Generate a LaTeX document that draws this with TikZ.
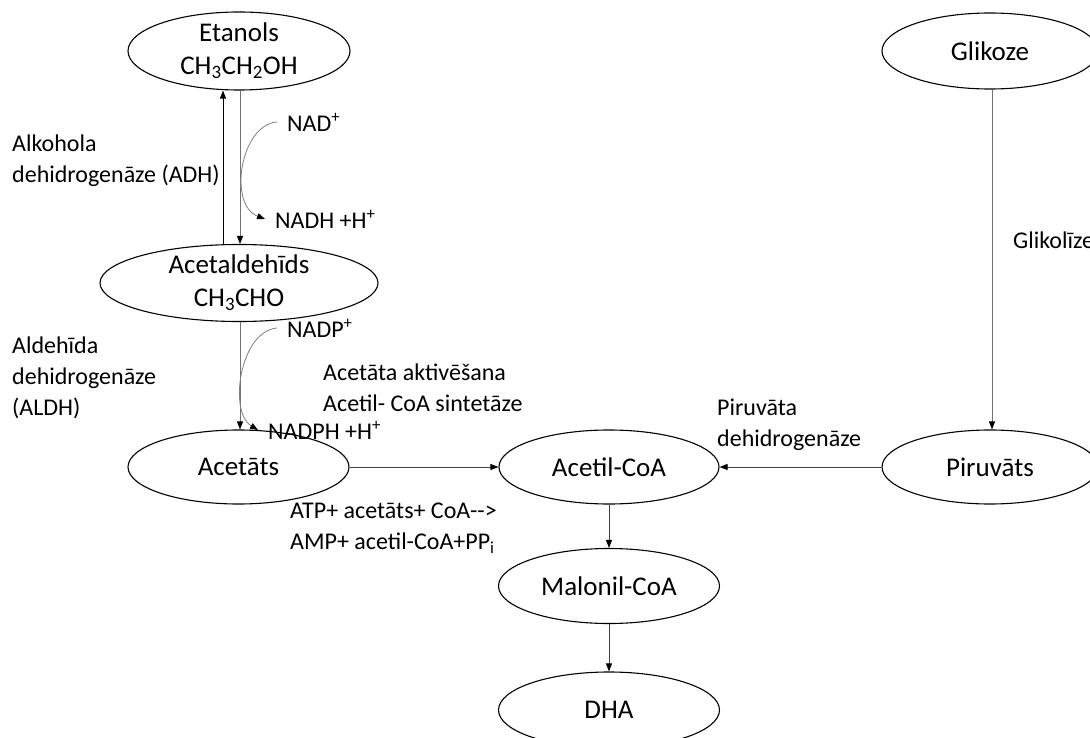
\documentclass[tikz,border=0pt]{standalone}
\usepackage{fontspec}
\setmainfont{Carlito}
\usetikzlibrary{shapes.geometric,arrows.meta}
\begin{document}
\begin{tikzpicture}[x=1pt,y=-1pt,
  ell/.style={ellipse,draw=black,line width=1.1pt,inner xsep=0pt,inner ysep=-16pt,align=center,font=\fontsize{27}{33}\selectfont},
  lbl/.style={inner sep=0pt,align=left,anchor=west,font=\fontsize{24}{31}\selectfont},
  cof/.style={inner xsep=10pt,inner ysep=0pt,anchor=west,font=\fontsize{24}{31}\selectfont},
  arr/.style={line width=0.9pt,draw=black!75,-{Triangle[length=8pt,width=6pt,color=black]}},
  cur/.style={line width=0.8pt,draw=black!50,-{Triangle[length=8pt,width=6pt,color=black]}},
]
\useasboundingbox (0,0) rectangle (1090,738);
\clip (0,0) rectangle (1090,738);

% nodes
\node[ell,minimum width=222pt,minimum height=78pt] (eta) at (239,51) {Etanols\\CH\textsubscript{3}CH\textsubscript{2}OH};
\node[ell,minimum width=278pt,minimum height=77pt] (ald) at (239,283) {Acetaldehīds\\CH\textsubscript{3}CHO};
\node[ell,minimum width=221pt,minimum height=74pt] (acet) at (238.5,467) {Acetāts};
\node[ell,minimum width=220pt,minimum height=74pt] (acoa) at (609,467) {Acetil-CoA};
\node[ell,minimum width=221pt,minimum height=75pt] (mal) at (609,586) {Malonil-CoA};
\node[ell,minimum width=221pt,minimum height=76pt] (dha) at (609,710) {DHA};
\node[ell,minimum width=216pt,minimum height=76pt] (glik) at (990,51) {Glikoze};
\node[ell,minimum width=216pt,minimum height=74pt] (piru) at (990,467) {Piruvāts};

% cofactor labels
\node[cof] (nad) at (277,122) {NAD\textsuperscript{+}};
\node[cof] (nadh) at (265,219) {NADH +H\textsuperscript{+}};
\node[cof] (nadp) at (277,328) {NADP\textsuperscript{+}};
\node[cof] (nadph) at (258,430) {NADPH +H\textsuperscript{+}};

% text labels
\node[lbl] (adh) at (12,161) {Alkohola\\dehidrogenāze (ADH)};
\node[lbl] (aldh) at (12,378) {Aldehīda\\dehidrogenāze\\(ALDH)};
\node[lbl] (acs) at (323,388) {Acetāta aktivēšana\\Acetil- CoA sintetāze};
\node[lbl] (pdh) at (717,425) {Piruvāta\\dehidrogenāze};
\node[lbl] (atp) at (290,528) {ATP+ acetāts+ CoA-{}->\\AMP+ acetil-CoA+PP\textsubscript{i}};
\node[lbl] (glyc) at (1013,240) {Glikolīze};

% connectors
\draw[arr,draw=black] ([xshift=-16pt]ald.north) -- ([xshift=-16pt]eta.south);
\draw[arr,draw=black!55] ([xshift=1pt]eta.south) -- ([xshift=1pt]ald.north);
\draw[arr,draw=black!55] ([xshift=1pt]ald.south) -- ([xshift=1.5pt]acet.north);
\draw[arr] (acet.east) -- (acoa.west);
\draw[arr] (piru.west) -- (acoa.east);
\draw[arr,draw=black!55] ([xshift=2pt]glik.south) -- ([xshift=2pt]piru.north);
\draw[arr] (acoa.south) -- (mal.north);
\draw[arr] (mal.south) -- (dha.north);

\draw[cur] (nad.west) .. controls (240,125) and (228,205) .. (nadh.west);
\draw[cur] (nadp.west) .. controls (240,331) and (228,412) .. (nadph.west);
\end{tikzpicture}
\end{document}
